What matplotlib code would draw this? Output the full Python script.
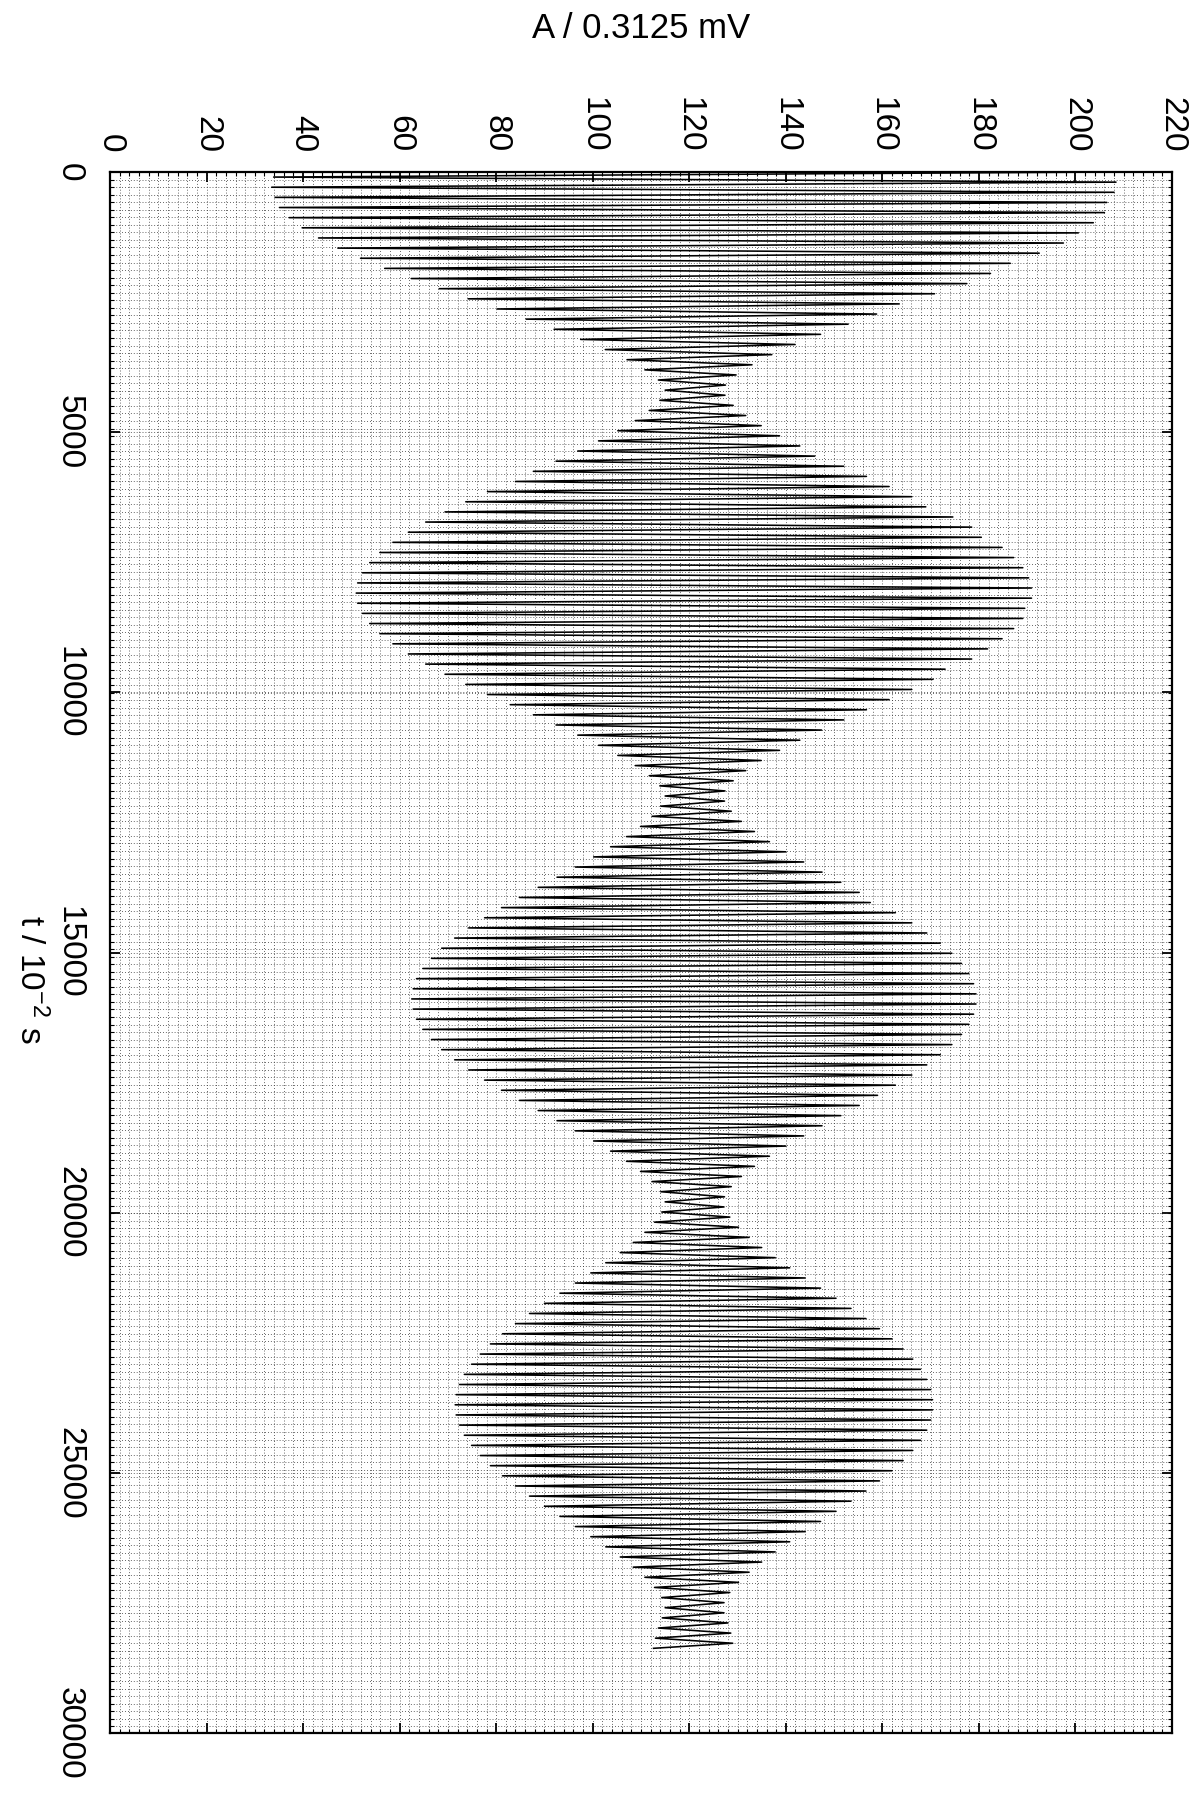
import numpy as np
import matplotlib
matplotlib.use("Agg")
import matplotlib.pyplot as plt
from matplotlib.ticker import MultipleLocator

plt.rcParams['font.family'] = ['Liberation Sans', 'DejaVu Sans']
plt.rcParams['mathtext.fontset'] = 'custom'
plt.rcParams['mathtext.rm'] = 'Liberation Sans'
plt.rcParams['mathtext.default'] = 'regular'

# time between successive turning points of the recorded signal (10^-2 s)
half_period = 97.5

# turning points (alternating maximum / minimum), A / 0.3125 mV, read per half-cycle
lobe0 = [207.6, 33.9, 208.4, 33.5, 208.0, 34.2, 206.5, 35.1, 206.0, 37.1,
         203.7, 39.8, 200.6, 43.2, 197.5, 47.2, 192.5, 51.9, 186.5, 56.9,
         182.4, 62.4, 177.5, 68.2, 170.8, 74.2, 163.5, 80.2, 158.8, 86.2,
         152.9, 92.0, 147.2, 97.5, 141.9, 102.6, 137.1, 107.1, 133.0, 110.8,
         129.7, 113.6, 127.5, 115.0]
lobe1 = [127.4, 113.9, 129.1, 111.7, 131.7, 108.8, 134.9, 105.2, 138.7, 101.2,
         142.9, 96.9, 146.0, 92.4, 152.0, 87.7, 156.7, 84.0, 161.4, 78.2,
         166.1, 73.7, 169.0, 69.4, 174.6, 65.4, 178.5, 61.8, 180.5, 58.6,
         184.8, 55.9, 187.2, 53.8, 189.1, 52.3, 190.3, 51.3, 190.9, 51.0,
         190.9, 51.3, 189.5, 52.3, 189.1, 53.8, 187.2, 55.9, 184.8, 58.6,
         181.8, 61.8, 178.5, 65.4, 173.0, 69.4, 170.5, 73.7, 166.1, 78.2,
         161.4, 82.9, 156.7, 87.7, 152.0, 92.4, 147.4, 96.9, 142.9, 101.2,
         138.7, 105.2, 134.9, 108.8, 131.7, 111.7, 129.1, 113.9, 127.4, 115.0]
lobe2 = [127.3, 114.1, 128.7, 112.3, 130.8, 109.9, 133.5, 107.0, 136.6, 103.7,
         140.0, 100.2, 143.7, 96.4, 147.5, 92.6, 151.4, 88.7, 155.2, 84.8,
         157.5, 81.1, 162.7, 77.6, 166.1, 74.3, 169.2, 71.4, 172.0, 68.7,
         174.4, 66.6, 176.4, 64.8, 177.9, 63.5, 178.9, 62.8, 179.4, 62.5,
         179.4, 62.8, 178.9, 63.5, 177.9, 64.8, 176.4, 66.6, 174.4, 68.7,
         172.0, 71.4, 169.2, 74.3, 166.1, 77.6, 162.7, 81.1, 159.0, 84.8,
         155.2, 88.7, 151.4, 92.6, 147.5, 96.4, 143.7, 100.2, 140.0, 103.7,
         136.6, 107.0, 133.5, 109.9, 130.8, 112.3, 128.7, 114.1, 127.3, 115.0]
lobe3 = [127.2, 114.3, 128.4, 112.8, 130.2, 110.8, 132.4, 108.4, 135.0, 105.7,
         137.8, 102.7, 140.8, 99.6, 144.0, 96.4, 147.2, 93.2, 150.4, 90.0,
         153.5, 86.9, 156.6, 84.0, 159.4, 81.3, 162.0, 78.8, 164.3, 76.7,
         166.3, 74.9, 167.9, 73.4, 169.2, 72.4, 170.0, 71.7, 170.4, 71.5,
         170.4, 71.7, 170.0, 72.4, 169.2, 73.4, 167.9, 74.9, 166.3, 76.7,
         164.3, 78.8, 162.0, 81.3, 159.4, 84.0, 156.6, 86.9, 153.5, 90.0,
         150.4, 93.2, 147.2, 96.4, 144.0, 99.6, 140.8, 102.7, 137.8, 105.7,
         135.0, 108.4, 132.4, 110.8, 130.2, 112.8, 128.4, 114.3, 127.2, 115.0]
lobe4 = [127.2, 114.4, 128.0, 113.6, 128.6, 113.0, 129.0, 112.6]

amp_ticks = list(range(0, 221, 20))
time_ticks = list(range(0, 30001, 5000))

signal = np.concatenate([lobe0, lobe1, lobe2, lobe3, lobe4])
t = np.arange(len(signal)) * half_period

W, H = 1198, 1793
fig = plt.figure(figsize=(W / 100, H / 100), dpi=100)
ax = fig.add_axes([110 / W, 1 - 1733 / H, 1062 / W, 1561 / H])

ax.plot(signal, t, color='black', lw=1.15)

ax.set_xlim(0, 220)
ax.set_ylim(30000, 0)
ax.set_xticks(amp_ticks)
ax.set_yticks(time_ticks)
ax.xaxis.set_minor_locator(MultipleLocator(2))
ax.yaxis.set_minor_locator(MultipleLocator(145))
ax.xaxis.tick_top()
ax.tick_params(axis='both', which='both', direction='in',
               top=True, bottom=True, left=True, right=True)
ax.tick_params(which='major', length=7, width=1.3)
ax.tick_params(which='minor', length=3, width=0.8)
ax.tick_params(axis='x', labeltop=True, labelbottom=False,
               labelrotation=-90, pad=14, labelsize=24)
ax.tick_params(axis='y', labelleft=True, labelrotation=-90, pad=18, labelsize=24)
for lab in ax.get_yticklabels():
    lab.set_verticalalignment('center')
ax.grid(which='both', linestyle=(0, (1, 2.5)), color='0.2', lw=0.6)
for s in ax.spines.values():
    s.set_linewidth(1.6)

fig.text(641 / W, 1 - 29 / H, 'A / 0.3125 mV', ha='center', va='center', fontsize=25)
fig.text(30 / W, 1 - 979 / H, 't / 10$^{-2}$ s', ha='center', va='center',
         rotation=-90, fontsize=24)

fig.savefig('out.png', dpi=100)
